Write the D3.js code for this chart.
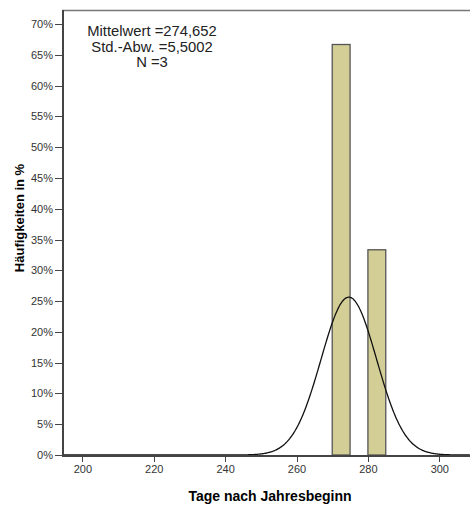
<!DOCTYPE html>
<html lang="de">
<head>
    <meta charset="utf-8">
    <title>Histogramm Tage nach Jahresbeginn</title>
    <style>
        body {
            margin: 0;
            background: #fff;
        }
        .axis text {
            font-family: "Liberation Sans", Arial, sans-serif;
            font-size: 11px;
            fill: #333;
        }
        .axis path,
        .axis line {
            stroke: #444;
            shape-rendering: crispEdges;
        }
        .title {
            font-family: "Liberation Sans", Arial, sans-serif;
            font-weight: bold;
            font-size: 14px;
            fill: #000;
        }
        .stats {
            font-family: "Liberation Sans", Arial, sans-serif;
            font-size: 14.8px;
            fill: #222;
        }
    </style>
    <script src="https://d3js.org/d3.v7.min.js"></script>
</head>
<body>
<svg></svg>
<script>
    const width = 470;
    const height = 505;

    // histogram bins (days) and their share in percent
    const binStarts = [270, 280];
    const binWidth = 5;
    const percents = [66.67, 33.33];

    const xTicks = [200, 220, 240, 260, 280, 300];
    const yTicks = [0, 5, 10, 15, 20, 25, 30, 35, 40, 45, 50, 55, 60, 65, 70];

    const mean = 274.652;
    const stdDev = 5.5002;
    const n = 3;
    // spread of the drawn normal curve
    const curveSpread = 7.78;

    const statLines = ["Mittelwert =274,652", "Std.-Abw. =5,5002", "N =3"];

    const margin = {top: 10, right: 0, bottom: 49, left: 62};

    const svg = d3.select('svg').attr('width', width).attr('height', height);

    const x = d3.scaleLinear()
        .domain([194.3, 308.6])
        .range([margin.left, width - margin.right]);

    const y = d3.scaleLinear()
        .domain([0, 70])
        .range([455, 24]);

    const plotBottom = y(0);

    // top frame line
    svg.append('line')
        .attr('x1', margin.left).attr('x2', width)
        .attr('y1', margin.top + 0.5).attr('y2', margin.top + 0.5)
        .attr('stroke', '#777')
        .attr('stroke-width', 1.5);

    // bars
    svg.selectAll('.bar')
        .data(binStarts)
        .enter().append('rect')
        .attr('class', 'bar')
        .attr('x', d => x(d))
        .attr('width', d => x(d + binWidth) - x(d))
        .attr('y', (d, i) => y(percents[i]))
        .attr('height', (d, i) => plotBottom - y(percents[i]))
        .attr('fill', '#d3ce96')
        .attr('stroke', '#555')
        .attr('stroke-width', 1.3);

    // normal curve
    const curveXs = d3.range(194.3, 308.7, 0.25);
    const normal = v => 100 * binWidth / (curveSpread * Math.sqrt(2 * Math.PI)) *
        Math.exp(-0.5 * Math.pow((v - mean) / curveSpread, 2));

    const line = d3.line()
        .x(d => x(d))
        .y(d => y(normal(d)))
        .curve(d3.curveBasis);

    svg.append('path')
        .datum(curveXs)
        .attr('d', line)
        .attr('fill', 'none')
        .attr('stroke', '#111')
        .attr('stroke-width', 1.3);

    // axes
    const yAxis = svg.append('g')
        .attr('class', 'axis')
        .attr('transform', `translate(${margin.left},0)`)
        .call(d3.axisLeft(y).tickValues(yTicks).tickSize(7).tickPadding(2)
            .tickFormat(d => d + '%'));
    yAxis.select('.domain').attr('d', `M0.5,${margin.top}V${plotBottom}`).attr('stroke-width', 2);

    const xAxis = svg.append('g')
        .attr('class', 'axis')
        .attr('transform', `translate(0,${plotBottom})`)
        .call(d3.axisBottom(x).tickValues(xTicks).tickSize(7).tickPadding(3)
            .tickFormat(d3.format('d')));
    xAxis.select('.domain').attr('d', `M${margin.left},0.5H${width}`).attr('stroke-width', 2);

    // axis titles
    svg.append('text')
        .attr('class', 'title')
        .attr('x', 270)
        .attr('y', 501)
        .attr('text-anchor', 'middle')
        .text('Tage nach Jahresbeginn');

    svg.append('text')
        .attr('class', 'title')
        .attr('transform', 'translate(24,218) rotate(-90)')
        .attr('text-anchor', 'middle')
        .style('font-size', '13px')
        .text('Häufigkeiten in %');

    // statistics box
    svg.selectAll('.stats')
        .data(statLines)
        .enter().append('text')
        .attr('class', 'stats')
        .attr('x', 152)
        .attr('y', (d, i) => 36 + i * 15.5)
        .attr('text-anchor', 'middle')
        .text(d => d);
</script>
</body>
</html>
